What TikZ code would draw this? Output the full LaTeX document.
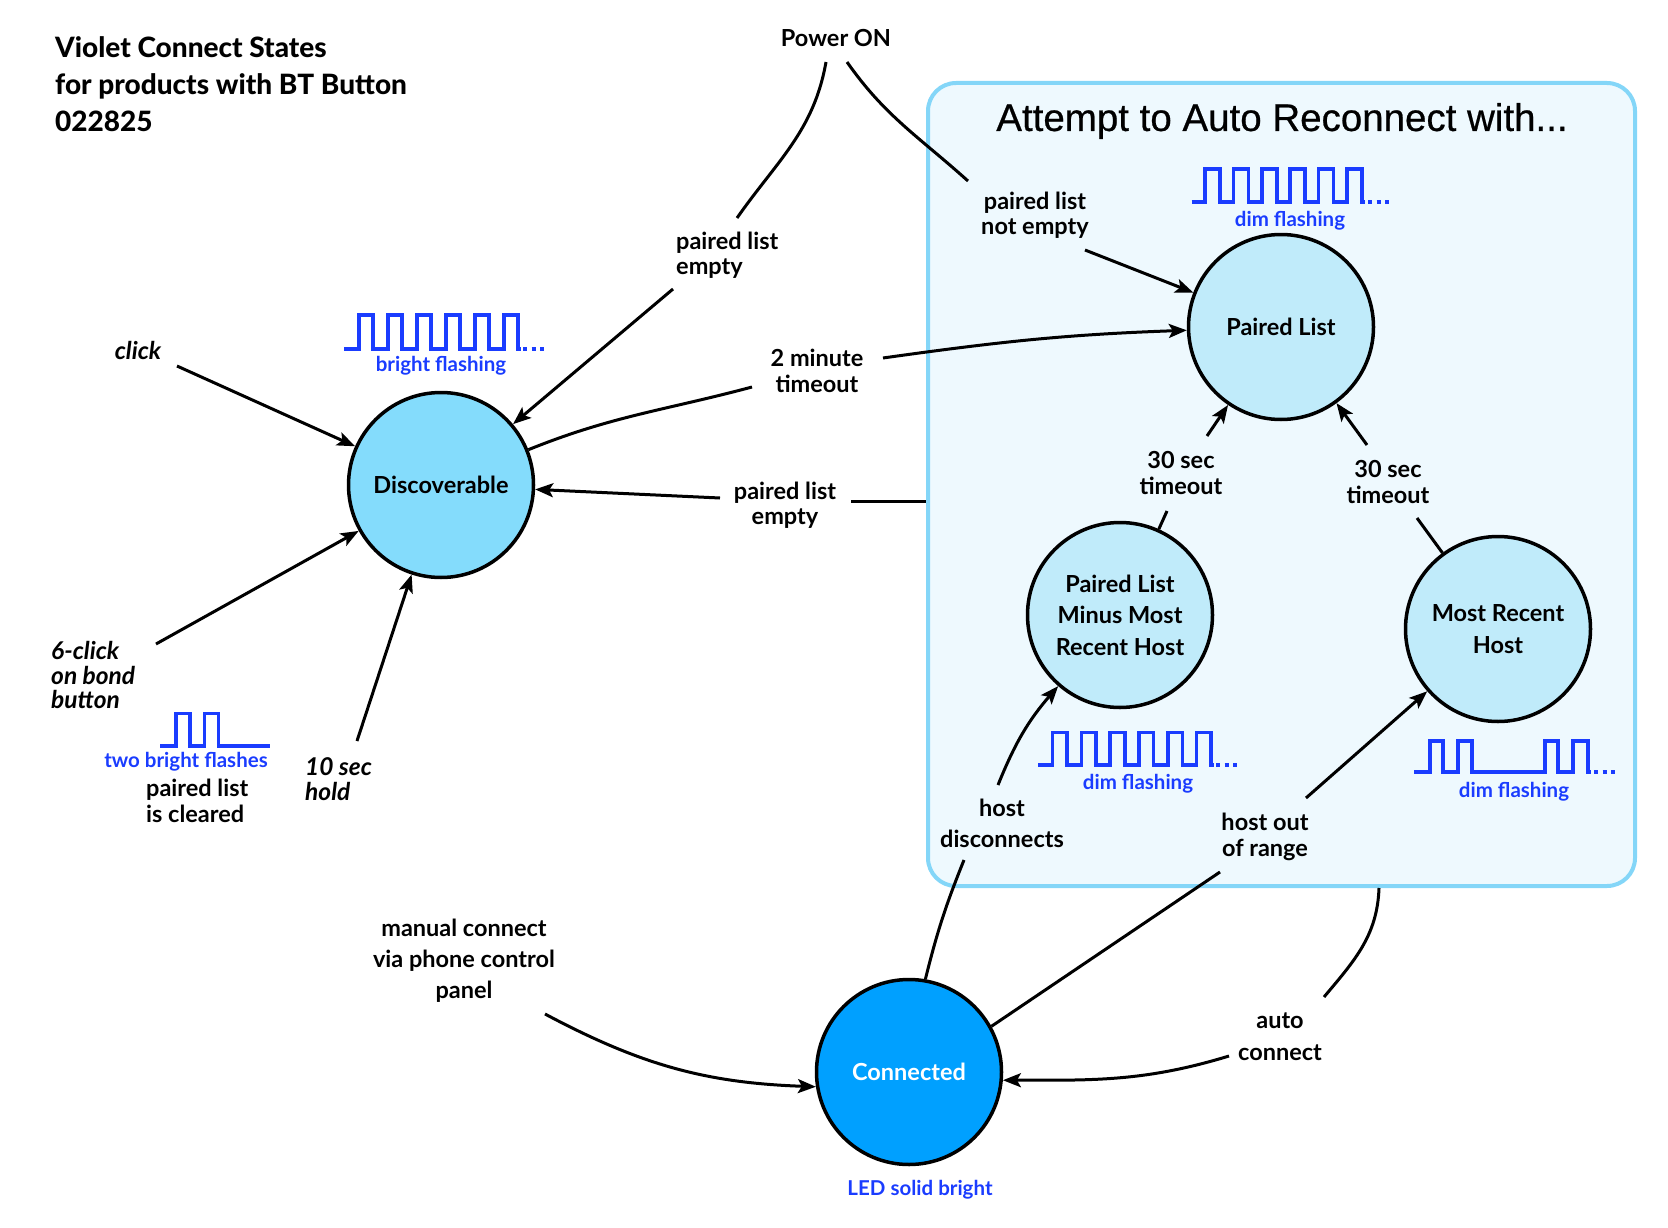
\documentclass[tikz,border=0pt]{standalone}
\usepackage{fontspec}
\setmainfont{Lato}[UprightFont={* Bold},ItalicFont={* Bold Italic},BoldFont={* Heavy},BoldItalicFont={* Heavy Italic}]
\newfontfamily\helvfont{Liberation Sans}[UprightFeatures={FakeBold=0.6}]
\usetikzlibrary{arrows.meta,calc}
\definecolor{discfill}{RGB}{132,220,252}
\definecolor{plfill}{RGB}{192,235,250}
\definecolor{connfill}{RGB}{0,160,255}
\definecolor{boxfill}{RGB}{238,249,254}
\definecolor{boxdraw}{RGB}{132,214,248}
\definecolor{wblue}{RGB}{26,60,255}
\newcommand\myfs[2]{\fontsize{#1}{#2}\selectfont}
\begin{document}
\begin{tikzpicture}[x=1pt,y=1pt,
  lbl/.style={font=\myfs{23.5}{25.5}, align=center, inner sep=0pt},
  itl/.style={font=\myfs{24.5}{24.5}\itshape, align=left, inner sep=0pt},
  blu/.style={font=\myfs{20.5}{24}, text=wblue, inner sep=0pt},
  state/.style={circle, draw=black, line width=3.5pt, minimum size=185pt, inner sep=0pt, align=center, font=\myfs{23.5}{31.5}},
  ln/.style={line width=3pt},
  arr/.style={ln, -{Stealth[length=18pt,width=14pt,inset=4pt]}},
  wave/.style={draw=wblue, line width=3.6pt},
  wdots/.style={wave, dash pattern=on 4pt off 4.5pt}]
\useasboundingbox (0,0) rectangle (1668,-1228);

% reconnect box
\node[draw=boxdraw, fill=boxfill, line width=4pt, rounded corners=28pt,
      minimum width=707pt, minimum height=803pt, inner sep=0pt] (box) at (1281.5,-484.5) {};
\node[font=\helvfont\myfs{38.5}{44}, inner sep=0pt] (att) at (1282,-121) {Attempt to Auto Reconnect with...};

% title
\node[font=\bfseries\myfs{28}{37}, align=left, inner sep=0pt, anchor=north west] (ttl) at (55,-36)
  {Violet Connect States\\for products with BT Button\\022825};

% states
\node[state, fill=discfill] (disc) at (441,-485) {Discoverable};
\node[state, fill=plfill] (pl) at (1281,-327) {Paired List};
\node[state, fill=plfill] (plm) at (1120,-615) {Paired List\\Minus Most\\Recent Host};
\node[state, fill=plfill] (mrh) at (1498,-629) {Most Recent\\Host};
\node[state, fill=connfill, text=white] (conn) at (909,-1072) {Connected};

% labels
\node[lbl] (power) at (836,-38) {Power ON};
\node[lbl, align=left, anchor=west] (ple1) at (676,-255) {paired list\\empty};
\node[lbl] (plne) at (1035,-215) {paired list\\not empty};
\node[lbl] (t2m) at (817,-371) {2 minute\\timeout};
\node[lbl] (ple2) at (785,-505) {paired list\\empty};
\node[itl] (click) at (138,-350) {click};
\node[itl, anchor=west] (six) at (51,-675) {6-click\\on bond\\button};
\node[itl, anchor=west, font=\myfs{24.5}{25}\itshape] (tens) at (305,-779) {10 sec\\hold};
\node[blu] (twof) at (186,-762) {two bright flashes};
\node[lbl, align=left, anchor=west] (clr) at (146,-801) {paired list\\is cleared};
\node[blu] (brf) at (441,-366) {bright flashing};
\node[blu] (dim1) at (1290,-221) {dim flashing};
\node[lbl] (toL) at (1181,-473) {30 sec\\timeout};
\node[lbl] (toR) at (1388,-482) {30 sec\\timeout};
\node[blu] (dim2) at (1138,-784) {dim flashing};
\node[blu] (dim3) at (1514,-792) {dim flashing};
\node[lbl, font=\myfs{23.5}{31}] (hd) at (1002,-823) {host\\disconnects};
\node[lbl] (ho) at (1265,-837) {host out\\of range};
\node[lbl, font=\myfs{23.5}{32}] (ac) at (1280,-1037) {auto\\connect};
\node[lbl, font=\myfs{23.5}{31}] (man) at (464,-961) {manual connect\\via phone control\\panel};
\node[blu] (led) at (920,-1190) {LED solid bright};

% connector end points beside labels
\coordinate (pwA) at (826,-62);
\coordinate (pwB) at (737,-218);
\coordinate (pwC) at (847,-62);
\coordinate (pwD) at (968,-181);
\coordinate (pleA) at (673,-289);
\coordinate (plneA) at (1085,-250);
\coordinate (t2A) at (752,-387);
\coordinate (t2B) at (883,-358);
\coordinate (ple2A) at (720,-498);
\coordinate (ple2B) at (851,-501);
\coordinate (clkA) at (177,-366);
\coordinate (sixA) at (156,-644);
\coordinate (tenA) at (357,-741);
\coordinate (tLA) at (1167,-511);
\coordinate (tLB) at (1207,-436);
\coordinate (tRA) at (1417,-518);
\coordinate (tRB) at (1367,-445);
\coordinate (hdA) at (964,-860);
\coordinate (hdB) at (998,-785);
\coordinate (hoA) at (1220,-872);
\coordinate (hoB) at (1306,-798);
\coordinate (acA) at (1379,-888);
\coordinate (acB) at (1324,-997);
\coordinate (acC) at (1229,-1056);
\coordinate (manA) at (545,-1014);

% connectors
\draw[ln] (pwA) to[out=-100,in=55] (pwB);
\draw[arr] (pleA) -- (disc);
\draw[ln] (pwC) to[out=-55,in=138] (pwD);
\draw[arr] (plneA) -- (pl);
\draw[ln] (disc.22) to[out=22,in=195] (t2A);
\draw[arr] (t2B) to[out=8,in=182] (pl);
\draw[arr] (ple2A) -- (disc);
\draw[ln] (ple2B) -- (ple2B -| box.west);
\draw[arr] (clkA) -- (disc);
\draw[arr] (sixA) -- (disc);
\draw[arr] (tenA) -- (disc);
\draw[ln] (plm) -- (tLA);
\draw[arr] (tLB) -- (pl);
\draw[ln] (mrh) -- (tRA);
\draw[arr] (tRB) -- (pl);
\draw[ln] (conn.80) to[out=76,in=-112] (hdA);
\draw[arr] (hdB) to[out=68,in=229] (plm);
\draw[ln] (conn.29) -- (hoA);
\draw[arr] (hoB) -- (mrh);
\draw[ln] (acA) to[out=-92,in=50] (acB);
\draw[arr] (acC) to[out=197,in=0] (conn.-5);
\draw[arr] (manA) to[out=-28,in=178] (conn.189);

% waveforms
\draw[wave] (344,-349) \foreach \i in {1,...,6}{ -- ++(15.2,0) -- ++(0,34) -- ++(13.8,0) -- ++(0,-34)} -- ++(3,0);
\draw[wdots] (523,-349) -- (545,-349);

\draw[wave] (1191.5,-201.7) \foreach \i in {1,...,6}{ -- ++(13.4,0) -- ++(0,32.4) -- ++(15,0) -- ++(0,-32.4)} -- ++(3,0);
\draw[wdots] (1368,-201.7) -- (1391,-201.7);

\draw[wave] (1038.3,-765) \foreach \i in {1,...,6}{ -- ++(14.3,0) -- ++(0,32.7) -- ++(14.5,0) -- ++(0,-32.7)} -- ++(3,0);
\draw[wdots] (1216,-765) -- (1238,-765);

\draw[wave] (1414,-772) -- (1430,-772) -- (1430,-741) -- (1443,-741) -- (1443,-772)
  -- (1458,-772) -- (1458,-741) -- (1472,-741) -- (1472,-772)
  -- (1545,-772) -- (1545,-741) -- (1558,-741) -- (1558,-772)
  -- (1573,-772) -- (1573,-741) -- (1588,-741) -- (1588,-772) -- (1591,-772);
\draw[wdots] (1594,-772) -- (1616,-772);

\draw[wave] (160,-746) -- (176,-746) -- (176,-713.5) -- (190,-713.5) -- (190,-746)
  -- (204.5,-746) -- (204.5,-713.5) -- (218.5,-713.5) -- (218.5,-746) -- (270,-746);
\end{tikzpicture}
\end{document}
